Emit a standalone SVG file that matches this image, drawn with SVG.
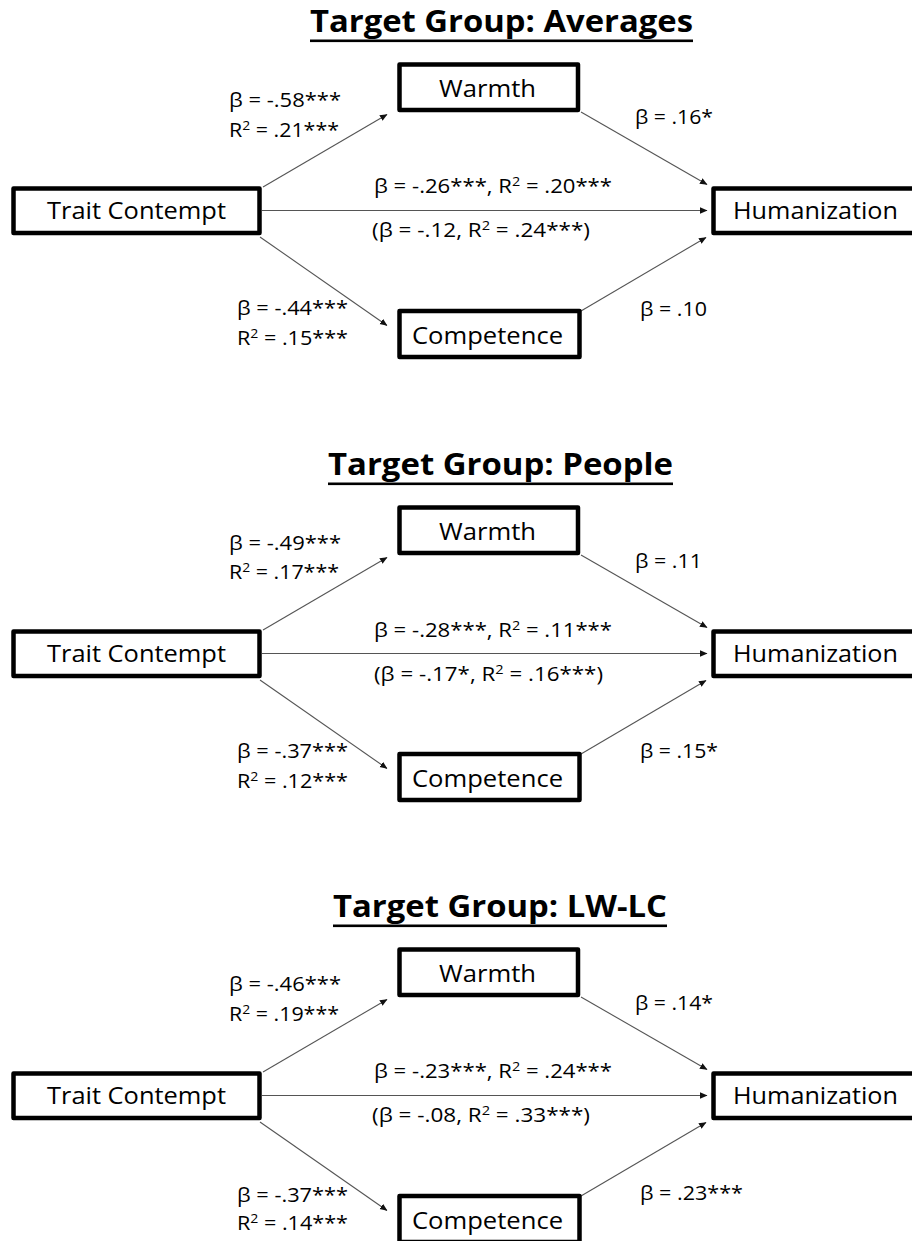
<svg xmlns="http://www.w3.org/2000/svg" width="912" height="1241" viewBox="0 0 912 1241">
<style>
.box{fill:#fff;stroke:#000;stroke-width:4.5;stroke-linejoin:round}
.node{font-family:"Open Sans","Liberation Sans",sans-serif;font-size:24px;fill:#000;text-anchor:start}
.lab{font-family:"Open Sans","Liberation Sans",sans-serif;font-size:20px;fill:#000}
.sup{font-size:13px}
.title{font-family:"Open Sans","Liberation Sans",sans-serif;font-size:31px;font-weight:bold;fill:#000}
.con{stroke:#555;stroke-width:1.1;fill:none;marker-end:url(#ah)}
</style>
<defs>
<marker id="ah" markerUnits="userSpaceOnUse" markerWidth="8" markerHeight="7" refX="7" refY="3.2" orient="auto">
<path d="M0,0 L7.5,3.2 L0,6.4 z" fill="#111"/>
</marker>
</defs>
<rect width="912" height="1241" fill="#fff"/>

<!-- Panel 1 -->
<g id="panel-averages">
<g id="title-averages">
<text class="title" x="310" y="32" textLength="383" lengthAdjust="spacingAndGlyphs">Target Group: Averages</text>
<rect x="310" y="39.5" width="383" height="2.6" fill="#000"/>
</g>
<g id="connectors-averages">
<line class="con" x1="263" y1="187" x2="387" y2="114.5"/>
<line class="con" x1="260" y1="237" x2="387" y2="325.5"/>
<line class="con" x1="262" y1="210.5" x2="707" y2="210.5"/>
<line class="con" x1="581" y1="112" x2="707" y2="184.5"/>
<line class="con" x1="581" y1="311" x2="706" y2="237.5"/>
</g>
<g id="node-trait-1"><rect class="box" x="13.5" y="188.5" width="246" height="44.5"/><text class="node" x="47" y="219" textLength="179" lengthAdjust="spacingAndGlyphs">Trait Contempt</text></g>
<g id="node-warmth-1"><rect class="box" x="399.5" y="64.5" width="178.5" height="45.5"/><text class="node" x="439" y="97" textLength="97" lengthAdjust="spacingAndGlyphs">Warmth</text></g>
<g id="node-competence-1"><rect class="box" x="399.5" y="311" width="180" height="46"/><text class="node" x="412" y="344" textLength="151" lengthAdjust="spacingAndGlyphs">Competence</text></g>
<g id="node-humanization-1"><rect class="box" x="713.5" y="188.5" width="260" height="44.5"/><text class="node" x="733" y="219" textLength="165" lengthAdjust="spacingAndGlyphs">Humanization</text></g>
<g id="labels-averages">
<text class="lab" x="229" y="107" textLength="112" lengthAdjust="spacingAndGlyphs">β = -.58***</text>
<text class="lab" x="229" y="137" textLength="110" lengthAdjust="spacingAndGlyphs">R<tspan class="sup" dy="-7">2</tspan><tspan dy="7"> = .21***</tspan></text>
<text class="lab" x="237" y="315" textLength="111" lengthAdjust="spacingAndGlyphs">β = -.44***</text>
<text class="lab" x="237" y="345" textLength="111" lengthAdjust="spacingAndGlyphs">R<tspan class="sup" dy="-7">2</tspan><tspan dy="7"> = .15***</tspan></text>
<text class="lab" x="635" y="124" textLength="78" lengthAdjust="spacingAndGlyphs">β = .16*</text>
<text class="lab" x="640" y="316" textLength="67" lengthAdjust="spacingAndGlyphs">β = .10</text>
<text class="lab" x="374" y="193" textLength="238" lengthAdjust="spacingAndGlyphs">β = -.26***, R<tspan class="sup" dy="-7">2</tspan><tspan dy="7"> = .20***</tspan></text>
<text class="lab" x="372" y="237" textLength="218" lengthAdjust="spacingAndGlyphs">(β = -.12, R<tspan class="sup" dy="-7">2</tspan><tspan dy="7"> = .24***)</tspan></text>
</g>
</g>

<!-- Panel 2 -->
<g id="panel-people" transform="translate(0,443)">
<g id="title-people">
<text class="title" x="328" y="32" textLength="345" lengthAdjust="spacingAndGlyphs">Target Group: People</text>
<rect x="328" y="39.5" width="345" height="2.6" fill="#000"/>
</g>
<g id="connectors-people">
<line class="con" x1="263" y1="187" x2="387" y2="114.5"/>
<line class="con" x1="260" y1="237" x2="387" y2="325.5"/>
<line class="con" x1="262" y1="210.5" x2="707" y2="210.5"/>
<line class="con" x1="581" y1="112" x2="707" y2="184.5"/>
<line class="con" x1="581" y1="311" x2="706" y2="237.5"/>
</g>
<g id="node-trait-2"><rect class="box" x="13.5" y="188.5" width="246" height="44.5"/><text class="node" x="47" y="219" textLength="179" lengthAdjust="spacingAndGlyphs">Trait Contempt</text></g>
<g id="node-warmth-2"><rect class="box" x="399.5" y="64.5" width="178.5" height="45.5"/><text class="node" x="439" y="97" textLength="97" lengthAdjust="spacingAndGlyphs">Warmth</text></g>
<g id="node-competence-2"><rect class="box" x="399.5" y="311" width="180" height="46"/><text class="node" x="412" y="344" textLength="151" lengthAdjust="spacingAndGlyphs">Competence</text></g>
<g id="node-humanization-2"><rect class="box" x="713.5" y="188.5" width="260" height="44.5"/><text class="node" x="733" y="219" textLength="165" lengthAdjust="spacingAndGlyphs">Humanization</text></g>
<g id="labels-people">
<text class="lab" x="229" y="107" textLength="112" lengthAdjust="spacingAndGlyphs">β = -.49***</text>
<text class="lab" x="229" y="136" textLength="110" lengthAdjust="spacingAndGlyphs">R<tspan class="sup" dy="-7">2</tspan><tspan dy="7"> = .17***</tspan></text>
<text class="lab" x="237" y="315" textLength="111" lengthAdjust="spacingAndGlyphs">β = -.37***</text>
<text class="lab" x="237" y="345" textLength="111" lengthAdjust="spacingAndGlyphs">R<tspan class="sup" dy="-7">2</tspan><tspan dy="7"> = .12***</tspan></text>
<text class="lab" x="635" y="125" textLength="67" lengthAdjust="spacingAndGlyphs">β = .11</text>
<text class="lab" x="640" y="315" textLength="78" lengthAdjust="spacingAndGlyphs">β = .15*</text>
<text class="lab" x="374" y="194" textLength="238" lengthAdjust="spacingAndGlyphs">β = -.28***, R<tspan class="sup" dy="-7">2</tspan><tspan dy="7"> = .11***</tspan></text>
<text class="lab" x="374" y="238" textLength="229" lengthAdjust="spacingAndGlyphs">(β = -.17*, R<tspan class="sup" dy="-7">2</tspan><tspan dy="7"> = .16***)</tspan></text>
</g>
</g>

<!-- Panel 3 -->
<g id="panel-lwlc" transform="translate(0,885)">
<g id="title-lwlc">
<text class="title" x="333" y="32" textLength="334" lengthAdjust="spacingAndGlyphs">Target Group: LW-LC</text>
<rect x="333" y="39.5" width="334" height="2.6" fill="#000"/>
</g>
<g id="connectors-lwlc">
<line class="con" x1="263" y1="187" x2="387" y2="114.5"/>
<line class="con" x1="260" y1="237" x2="387" y2="325.5"/>
<line class="con" x1="262" y1="210.5" x2="707" y2="210.5"/>
<line class="con" x1="581" y1="112" x2="707" y2="184.5"/>
<line class="con" x1="581" y1="311" x2="706" y2="237.5"/>
</g>
<g id="node-trait-3"><rect class="box" x="13.5" y="188.5" width="246" height="44.5"/><text class="node" x="47" y="219" textLength="179" lengthAdjust="spacingAndGlyphs">Trait Contempt</text></g>
<g id="node-warmth-3"><rect class="box" x="399.5" y="64.5" width="178.5" height="45.5"/><text class="node" x="439" y="97" textLength="97" lengthAdjust="spacingAndGlyphs">Warmth</text></g>
<g id="node-competence-3"><rect class="box" x="399.5" y="311" width="180" height="46"/><text class="node" x="412" y="344" textLength="151" lengthAdjust="spacingAndGlyphs">Competence</text></g>
<g id="node-humanization-3"><rect class="box" x="713.5" y="188.5" width="260" height="44.5"/><text class="node" x="733" y="219" textLength="165" lengthAdjust="spacingAndGlyphs">Humanization</text></g>
<g id="labels-lwlc">
<text class="lab" x="229" y="106" textLength="112" lengthAdjust="spacingAndGlyphs">β = -.46***</text>
<text class="lab" x="229" y="136" textLength="110" lengthAdjust="spacingAndGlyphs">R<tspan class="sup" dy="-7">2</tspan><tspan dy="7"> = .19***</tspan></text>
<text class="lab" x="237" y="317" textLength="111" lengthAdjust="spacingAndGlyphs">β = -.37***</text>
<text class="lab" x="237" y="345" textLength="111" lengthAdjust="spacingAndGlyphs">R<tspan class="sup" dy="-7">2</tspan><tspan dy="7"> = .14***</tspan></text>
<text class="lab" x="635" y="125" textLength="78" lengthAdjust="spacingAndGlyphs">β = .14*</text>
<text class="lab" x="640" y="315" textLength="103" lengthAdjust="spacingAndGlyphs">β = .23***</text>
<text class="lab" x="374" y="193" textLength="238" lengthAdjust="spacingAndGlyphs">β = -.23***, R<tspan class="sup" dy="-7">2</tspan><tspan dy="7"> = .24***</tspan></text>
<text class="lab" x="372" y="237" textLength="218" lengthAdjust="spacingAndGlyphs">(β = -.08, R<tspan class="sup" dy="-7">2</tspan><tspan dy="7"> = .33***)</tspan></text>
</g>
</g>
</svg>
